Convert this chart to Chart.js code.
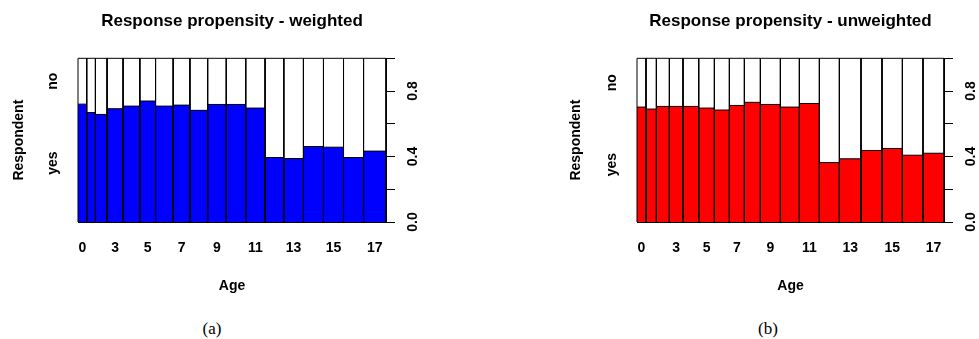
<!DOCTYPE html>
<html>
<head>
<meta charset="utf-8">
<script src="https://cdn.jsdelivr.net/npm/chart.js@4.4.1/dist/chart.umd.min.js"></script>
<style>
html, body { margin: 0; padding: 0; background: #fff; overflow: hidden; }
#wrap { position: relative; width: 979px; height: 339px; }
.panel { position: absolute; top: 0; height: 300px; }
.cap { position: absolute; top: 319px; line-height: 20px; font: 17px "Liberation Serif", "Times New Roman", serif; transform: translateX(-50%); color: #000; }
</style>
</head>
<body>
<div id="wrap">
  <div class="panel" style="left:0;width:490px"><canvas id="chartA" width="490" height="300"></canvas></div>
  <div class="panel" style="left:490px;width:489px"><canvas id="chartB" width="489" height="300"></canvas></div>
  <div class="cap" style="left:212px">(a)</div>
  <div class="cap" style="left:768px">(b)</div>
</div>
<script>
// ages 0..17, one spine per age
var ages = [0, 1, 2, 3, 4, 5, 6, 7, 8, 9, 10, 11, 12, 13, 14, 15, 16, 17];

// relative group sizes (spine widths) and share of "yes"
var weightedSize = [8.7, 8.7, 11.6, 16.0, 16.7, 15.7, 17.6, 16.7, 17.7, 18.6, 19.4, 19.3, 18.7, 19.6, 20.0, 20.0, 20.0, 22.4];
var weightedYes = [0.720, 0.669, 0.657, 0.692, 0.708, 0.739, 0.708, 0.714, 0.682, 0.718, 0.718, 0.696, 0.394, 0.388, 0.461, 0.457, 0.394, 0.433];

var unweightedSize = [9.0, 10.4, 13.0, 13.6, 15.7, 15.7, 15.0, 15.0, 16.0, 20.0, 19.0, 20.0, 20.0, 21.6, 21.0, 20.4, 20.6, 21.0];
var unweightedYes = [0.702, 0.690, 0.706, 0.706, 0.706, 0.696, 0.684, 0.712, 0.731, 0.718, 0.702, 0.724, 0.363, 0.386, 0.437, 0.449, 0.408, 0.420];

// axis labels
var xTickAges = [0, 3, 5, 7, 9, 11, 13, 15, 17];
var propTicks = [0, 0.2, 0.4, 0.6, 0.8, 1.0];
var propLabels = ['0.0', '', '0.4', '', '0.8', ''];
var respLabels = ['yes', 'no'];

Chart.defaults.font.family = '"Liberation Sans", Arial, sans-serif';
Chart.defaults.color = '#000';

var lblFont = { size: 14, weight: 'bold' };

function makeSpine(id, title, sizes, yesProp, color, leftW, rightW, respPad) {
  var edges = [0];
  sizes.forEach(function (s) { edges.push(edges[edges.length - 1] + s); });
  var total = edges[edges.length - 1];

  var datasets = [];
  ages.forEach(function (age, i) {
    var x0 = edges[i], x1 = edges[i + 1], p = yesProp[i];
    // yes part
    datasets.push({
      label: 'yes ' + age,
      data: [{ x: x0, y: 0 }, { x: x0, y: p }, { x: x1, y: p }, { x: x1, y: 0 }],
      backgroundColor: color,
      borderColor: '#000',
      borderWidth: 1,
      fill: 'origin',
      pointRadius: 0,
      clip: false
    });
    // no part (white)
    datasets.push({
      label: 'no ' + age,
      data: [{ x: x0, y: p }, { x: x0, y: 1 }, { x: x1, y: 1 }, { x: x1, y: p }],
      borderColor: '#000',
      borderWidth: 1,
      fill: false,
      pointRadius: 0,
      clip: false
    });
  });

  return new Chart(document.getElementById(id), {
    type: 'line',
    data: { datasets: datasets },
    options: {
      responsive: false,
      animation: false,
      events: [],
      layout: { padding: 0 },
      plugins: {
        legend: { display: false },
        tooltip: { enabled: false },
        filler: { drawTime: 'beforeDatasetsDraw' },
        title: {
          display: true,
          text: title,
          fullSize: false,
          color: '#000',
          font: { size: 17, weight: 'bold' },
          padding: { top: 11.5, bottom: 26.4 }
        }
      },
      scales: {
        x: {
          type: 'linear',
          min: 0,
          max: total,
          bounds: 'data',
          afterBuildTicks: function (s) {
            s.ticks = xTickAges.map(function (a) { return { value: (edges[a] + edges[a + 1]) / 2 }; });
          },
          afterFit: function (s) { s.height = 78; },
          ticks: {
            autoSkip: false,
            maxRotation: 0,
            padding: 18,
            font: lblFont,
            color: '#000',
            callback: function (v, i) { return String(xTickAges[i]); }
          },
          grid: { display: false, drawTicks: false },
          border: { display: true, color: '#000', width: 1 },
          title: { display: true, text: 'Age', font: lblFont, color: '#000', padding: { top: 0, bottom: 5 } }
        },
        y: {
          position: 'left',
          min: 0,
          max: 1,
          bounds: 'data',
          afterBuildTicks: function (s) {
            s.ticks = [{ value: yesProp[0] / 2 }, { value: (1 + yesProp[0]) / 2 }];
          },
          afterFit: function (s) { s.width = leftW; },
          ticks: {
            minRotation: 90,
            maxRotation: 90,
            crossAlign: 'center',
            padding: 13,
            font: lblFont,
            color: '#000',
            callback: function (v, i) { return respLabels[i]; }
          },
          grid: { display: false, drawTicks: false },
          border: { display: false },
          title: { display: true, text: 'Respondent', font: lblFont, color: '#000', padding: { top: respPad, bottom: 0 } }
        },
        y2: {
          position: 'right',
          min: 0,
          max: 1,
          bounds: 'data',
          afterBuildTicks: function (s) {
            s.ticks = propTicks.map(function (v) { return { value: v }; });
          },
          afterFit: function (s) { s.width = rightW; },
          ticks: {
            minRotation: 90,
            maxRotation: 90,
            crossAlign: 'center',
            padding: 8,
            font: lblFont,
            color: '#000',
            callback: function (v, i) { return propLabels[i]; }
          },
          grid: { display: true, drawOnChartArea: false, drawTicks: true, tickLength: 9, color: '#000', lineWidth: 1 },
          border: { display: true, color: '#000', width: 1 }
        }
      }
    }
  });
}

makeSpine('chartA', 'Response propensity - weighted', weightedSize, weightedYes, '#0000ff', 78, 104, 10.6);
makeSpine('chartB', 'Response propensity - unweighted', unweightedSize, unweightedYes, '#ff0000', 147, 35, 77.3);
</script>
</body>
</html>
